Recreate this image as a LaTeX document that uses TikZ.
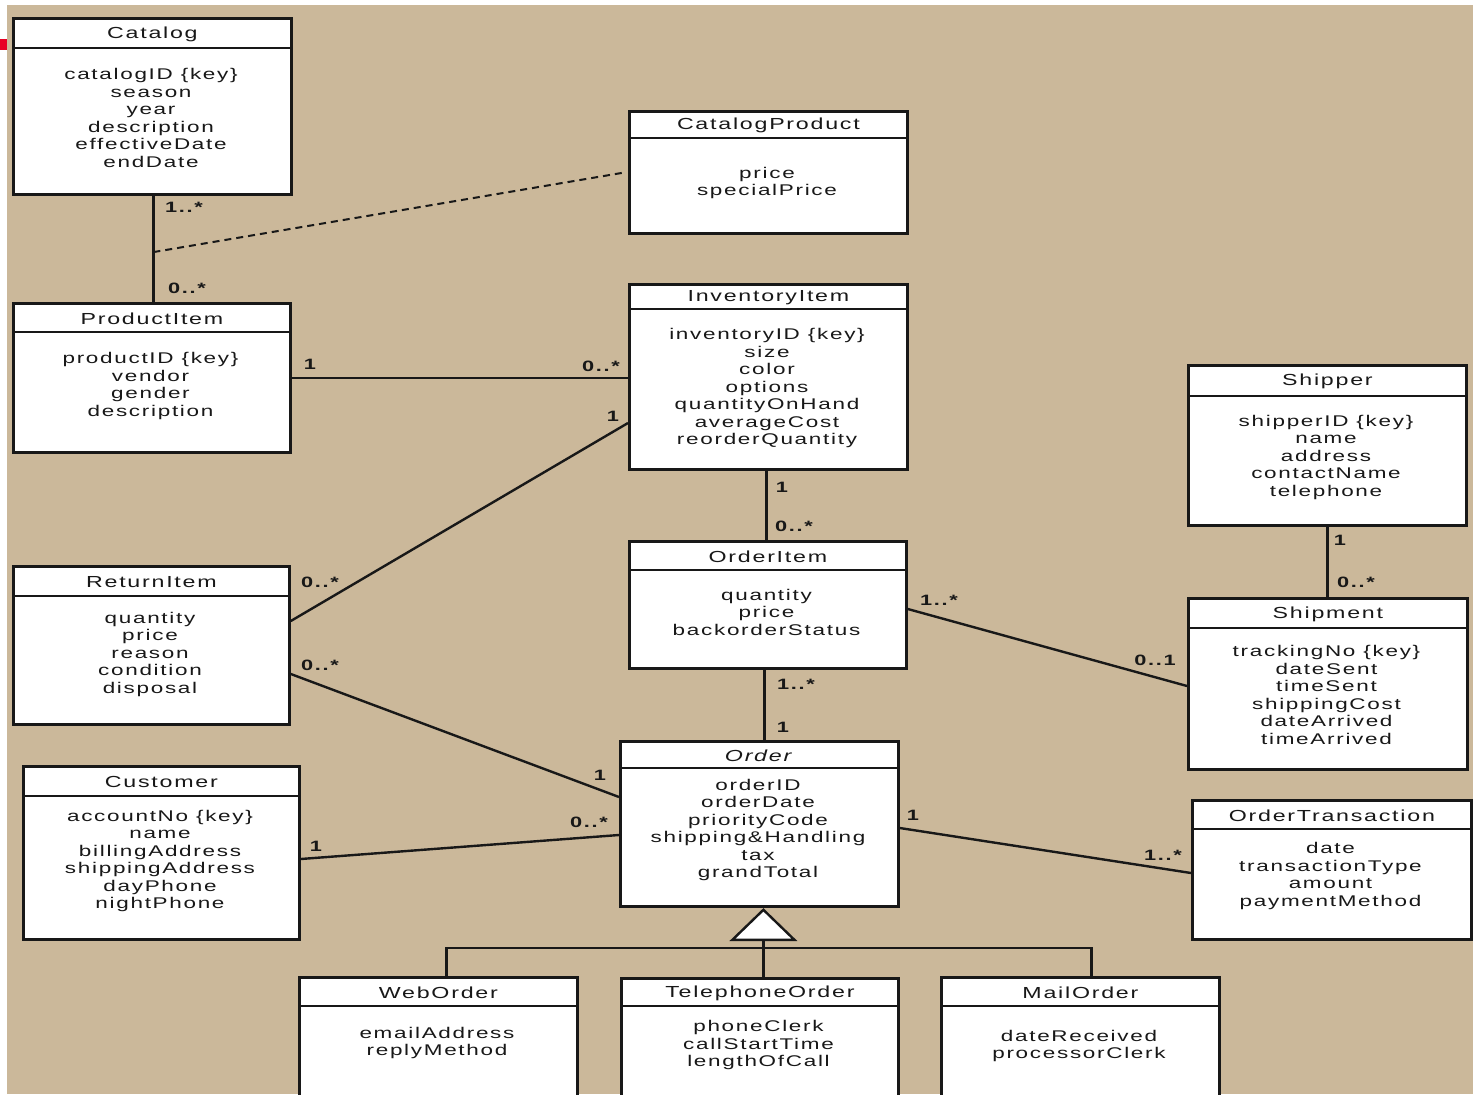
\documentclass[tikz,border=0pt]{standalone}
\usepackage{fontspec}
\setmainfont{Liberation Sans}[FakeStretch=1.45, LetterSpace=11]
\usetikzlibrary{calc}

\definecolor{paper}{RGB}{203,184,154}
\definecolor{ink}{RGB}{24,24,24}
\definecolor{signal}{RGB}{232,0,36}

\tikzset{
  clsbox/.style={draw=ink, fill=white, line width=2.8pt, inner sep=0pt, anchor=north west},
  divider/.style={draw=ink, line width=2.6pt},
  clstitle/.style={inner sep=0pt, yshift=-1.5pt, font=\fontsize{16}{18}\selectfont, text=ink},
  clsattrs/.style={inner sep=0pt, align=center, font=\fontsize{15.5}{17.5}\selectfont, text=ink},
  link/.style={draw=ink, line width=2.4pt},
  assoclink/.style={draw=ink, line width=2pt, dash pattern=on 7pt off 5pt},
  mult/.style={inner sep=0pt, font=\bfseries\fontsize{15}{17}\selectfont, text=ink},
}

% #1 name, #2 left, #3 top, #4 right, #5 bottom, #6 header height,
% #7 class name, #8 vertical centre of the attribute list, #9 attributes
\newcommand\umlclass[9]{%
  \node[clsbox, minimum width={#4-#2}, minimum height={#5-#3}] (#1) at (#2,#3) {};
  \draw[divider] ([yshift=-#6pt]#1.north west) -- ([yshift=-#6pt]#1.north east);
  \node[clstitle] (#1-title) at ($(#1.north)!0.5!([yshift=-#6pt]#1.north)$) {#7};
  \node[clsattrs] (#1-attrs) at ({(#2+#4)/2},#8) {#9};
}

\begin{document}
\begin{tikzpicture}[x=1pt, y=-1pt]
  \useasboundingbox (0,0) rectangle (1473,1095);
  \fill[white] (0,0) rectangle (1473,1095);
  \fill[paper] (7,5) rectangle (1473,1094);
  \fill[signal] (0,39) rectangle (7,50);

  \begin{scope}
    \clip (7,5) rectangle (1473,1094);

    % classes
    \umlclass{catalog}{12}{17}{290}{193}{31}{Catalog}{118}
      {catalogID \{key\}\\season\\year\\description\\effectiveDate\\endDate}
    \umlclass{catprod}{628}{110}{906}{232}{28}{CatalogProduct}{183}
      {price\\specialPrice}
    \umlclass{product}{12}{302}{289}{451}{30}{ProductItem}{386}
      {productID \{key\}\\vendor\\gender\\description}
    \umlclass{inventory}{628}{283}{906}{468}{26}{InventoryItem}{388}
      {inventoryID \{key\}\\size\\color\\options\\quantityOnHand\\averageCost\\reorderQuantity}
    \umlclass{shipper}{1187}{364}{1465}{524}{32}{Shipper}{457}
      {shipperID \{key\}\\name\\address\\contactName\\telephone}
    \umlclass{returnitem}{12}{565}{288}{723}{31}{ReturnItem}{654}
      {quantity\\price\\reason\\condition\\disposal}
    \umlclass{orderitem}{628}{540}{905}{667}{30}{OrderItem}{612}
      {quantity\\price\\backorderStatus}
    \umlclass{shipment}{1187}{597}{1466}{768}{31}{Shipment}{695}
      {trackingNo \{key\}\\dateSent\\timeSent\\shippingCost\\dateArrived\\timeArrived}
    \umlclass{customer}{22}{765}{298}{938}{31}{Customer}{861}
      {accountNo \{key\}\\name\\billingAddress\\shippingAddress\\dayPhone\\nightPhone}
    \umlclass{order}{619}{740}{897}{905}{28}{\textit{Order}}{830}
      {orderID\\orderDate\\priorityCode\\shipping\&Handling\\tax\\grandTotal}
    \umlclass{transaction}{1191}{799}{1470}{938}{30}{OrderTransaction}{876}
      {date\\transactionType\\amount\\paymentMethod}
    \umlclass{weborder}{298}{976}{576}{1125}{30}{WebOrder}{1043}
      {emailAddress\\replyMethod}
    \umlclass{phoneorder}{620}{977}{897}{1125}{29}{TelephoneOrder}{1045}
      {phoneClerk\\callStartTime\\lengthOfCall}
    \umlclass{mailorder}{940}{976}{1218}{1125}{30}{MailOrder}{1046}
      {dateReceived\\processorClerk}

    % associations
    \draw[link] ([xshift=1pt]catalog.south) -- ([xshift=1pt]catalog.south |- product.north);
    \coordinate (catassoc) at ($([xshift=1pt]catalog.south)!0.53!([xshift=1pt]catalog.south |- product.north)$);
    \draw[assoclink] (catassoc) -- ([xshift=-3pt]catprod.west);
    \draw[link] (product.east) -- (product.east -| inventory.west);
    \draw[link] ([yshift=-56pt]returnitem.north east) -- ([yshift=-140pt]inventory.north west);
    \draw[link] ([xshift=-2pt]inventory.south) -- ([xshift=-2pt]inventory.south |- orderitem.north);
    \draw[link] ([yshift=-109pt]returnitem.north east) -- ([yshift=-57pt]order.north west);
    \draw[link] ([yshift=-69pt]orderitem.north east) -- ([yshift=-89pt]shipment.north west);
    \draw[link] (shipper.south) -- (shipper.south |- shipment.north);
    \draw[link] ([xshift=-3.5pt]orderitem.south) -- ([xshift=-3.5pt]orderitem.south |- order.north);
    \draw[link] ([yshift=-94pt]customer.north east) -- ([yshift=-95pt]order.north west);
    \draw[link] ([yshift=-88pt]order.north east) -- ([yshift=-74pt]transaction.north west);

    % generalization of the order kinds
    \coordinate (genapex) at ([xshift=4pt,yshift=-2pt]order.south);
    \draw[link] ([xshift=3.5pt]phoneorder.north) -- ([xshift=3.5pt,yshift=40pt]phoneorder.north);
    \draw[link] ([xshift=8pt]weborder.north) -- ++(0,-28) -| ([xshift=11pt]mailorder.north);
    \draw[link, fill=white, line join=miter] (genapex) -- ++(31,30) -- ++(-62,0) -- cycle;

    % multiplicities
    \node[mult] (m-cat-top)   at (184,207) {1..*};
    \node[mult] (m-cat-bot)   at (187,288) {0..*};
    \node[mult] (m-pi-l)      at (310,364) {1};
    \node[mult] (m-pi-r)      at (601,366) {0..*};
    \node[mult] (m-ri-inv)    at (613,416) {1};
    \node[mult] (m-ri-top)    at (320,582) {0..*};
    \node[mult] (m-inv-oi-a)  at (782,487) {1};
    \node[mult] (m-inv-oi-b)  at (794,526) {0..*};
    \node[mult] (m-ri-bot)    at (320,665) {0..*};
    \node[mult] (m-ri-ord)    at (600,775) {1};
    \node[mult] (m-oi-ord-a)  at (796,684) {1..*};
    \node[mult] (m-oi-ord-b)  at (783,727) {1};
    \node[mult] (m-sh-a)      at (1340,540) {1};
    \node[mult] (m-sh-b)      at (1356,582) {0..*};
    \node[mult] (m-oi-shp-a)  at (939,600) {1..*};
    \node[mult] (m-oi-shp-b)  at (1155,660) {0..1};
    \node[mult] (m-cu-a)      at (316,846) {1};
    \node[mult] (m-cu-b)      at (589,822) {0..*};
    \node[mult] (m-ot-a)      at (913,815) {1};
    \node[mult] (m-ot-b)      at (1163,855) {1..*};
  \end{scope}
\end{tikzpicture}
\end{document}
